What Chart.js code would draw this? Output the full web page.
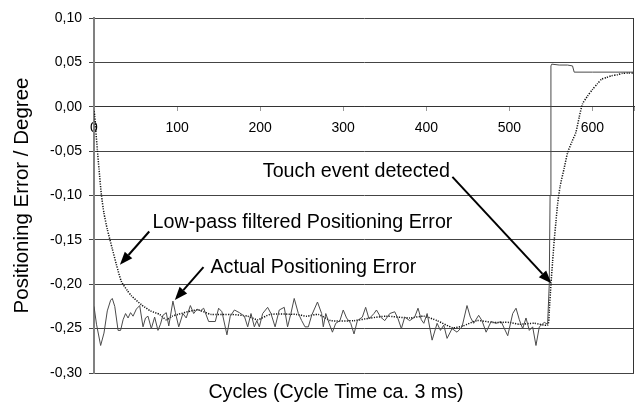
<!DOCTYPE html>
<html>
<head>
<meta charset="utf-8">
<script src="https://cdn.jsdelivr.net/npm/chart.js@4"></script>
<style>
  body { margin: 0; background: #fff; }
  canvas { display: block; }
</style>
</head>
<body>
<canvas id="chart" width="643" height="410"></canvas>
<script>
// Actual positioning error (solid line)
const actualCycles = [0, 3, 8, 12, 16, 20, 22, 25, 29, 32, 35, 38, 41, 44, 47, 51, 55, 59, 62, 65, 69, 73, 77, 80, 83, 87, 90, 95, 98, 102, 107, 111, 116, 120, 124, 128, 132, 138, 146, 150, 154, 160, 164, 169, 175, 181, 185, 189, 193, 196, 199, 203, 209, 213, 218, 223, 229, 233, 237, 241, 246, 250, 254, 258, 262, 269, 274, 276, 279, 283, 287, 291, 296, 300, 304, 309, 313, 317, 323, 327, 331, 337, 340, 345, 350, 356, 362, 366, 370, 374, 380, 386, 390, 394, 397, 401, 407, 413, 417, 421, 425, 431, 437, 443, 449, 453, 457, 463, 467, 472, 478, 484, 490, 498, 504, 508, 512, 516, 520, 524, 528, 532, 536, 542, 546, 548, 549, 550, 551, 560, 570, 576, 578, 600, 650];
const actualValues = [-0.225, -0.245, -0.269, -0.255, -0.23, -0.218, -0.216, -0.225, -0.252, -0.252, -0.24, -0.233, -0.238, -0.232, -0.236, -0.228, -0.224, -0.248, -0.238, -0.236, -0.25, -0.237, -0.252, -0.245, -0.235, -0.232, -0.247, -0.219, -0.232, -0.248, -0.233, -0.238, -0.224, -0.233, -0.228, -0.23, -0.227, -0.242, -0.242, -0.227, -0.231, -0.257, -0.236, -0.229, -0.232, -0.236, -0.248, -0.233, -0.248, -0.241, -0.248, -0.233, -0.226, -0.233, -0.248, -0.229, -0.226, -0.248, -0.233, -0.216, -0.233, -0.241, -0.248, -0.248, -0.235, -0.22, -0.233, -0.248, -0.233, -0.244, -0.254, -0.244, -0.241, -0.229, -0.238, -0.244, -0.256, -0.241, -0.237, -0.226, -0.239, -0.233, -0.229, -0.237, -0.241, -0.233, -0.231, -0.239, -0.25, -0.237, -0.241, -0.237, -0.227, -0.24, -0.244, -0.233, -0.263, -0.244, -0.252, -0.246, -0.261, -0.25, -0.254, -0.248, -0.224, -0.237, -0.244, -0.235, -0.241, -0.254, -0.242, -0.244, -0.242, -0.258, -0.233, -0.227, -0.24, -0.25, -0.238, -0.252, -0.248, -0.269, -0.248, -0.243, -0.245, -0.2, -0.1, 0.046, 0.048, 0.047, 0.047, 0.046, 0.039, 0.039, 0.039];

// Low-pass filtered positioning error (dotted line)
const filteredCycles = [0, 1, 2, 4, 6, 9, 12, 16, 22, 27, 33, 40, 45, 57, 68, 79, 87, 94, 101, 117, 126, 141, 165, 185, 197, 212, 244, 256, 270, 285, 313, 333, 352, 380, 397, 413, 432, 444, 461, 480, 500, 512, 530, 546, 548, 550, 552, 554, 556, 558, 561, 566, 570, 575, 580, 584, 588, 594, 600, 606, 611, 617, 623, 630, 636, 643, 650];
const filteredValues = [-0.005, -0.011, -0.025, -0.048, -0.07, -0.1, -0.12, -0.138, -0.16, -0.178, -0.197, -0.207, -0.213, -0.223, -0.23, -0.234, -0.24, -0.236, -0.234, -0.23, -0.229, -0.234, -0.234, -0.236, -0.24, -0.234, -0.234, -0.236, -0.234, -0.241, -0.241, -0.238, -0.236, -0.238, -0.236, -0.241, -0.249, -0.247, -0.241, -0.243, -0.243, -0.245, -0.244, -0.246, -0.23, -0.2, -0.175, -0.15, -0.13, -0.11, -0.09, -0.069, -0.052, -0.04, -0.029, -0.012, 0.003, 0.012, 0.0195, 0.026, 0.031, 0.033, 0.035, 0.036, 0.0376, 0.038, 0.038];

// Axis ranges
const xMin = 0, xMax = 650, xStep = 100;
const yMin = -0.30, yMax = 0.10, yStep = 0.05;

// Annotation texts, anchored in data units
const notes = [
  { text: "Low-pass filtered Positioning Error", x: 70.5, y: -0.131, from: [66.5, -0.1406], to: [31.2, -0.178] },
  { text: "Actual Positioning Error", x: 140.2, y: -0.1817, from: [131.8, -0.1806], to: [97.3, -0.2177] },
  { text: "Touch event detected", x: 203.2, y: -0.0735, from: [431.4, -0.079], to: [550.5, -0.199] },
];
const xTitle = "Cycles (Cycle Time ca. 3 ms)";
const yTitle = "Positioning Error / Degree";

const FONT = "'Liberation Sans', Arial, sans-serif";
Chart.defaults.font.family = FONT;
Chart.defaults.color = "#000";

function toPoints(xs, ys) {
  return xs.map((x, i) => ({ x: x, y: ys[i] }));
}

function arrow(ctx, x1, y1, x2, y2) {
  const ang = Math.atan2(y2 - y1, x2 - x1);
  const len = 13, half = 5;
  const bx = x2 - len * Math.cos(ang), by = y2 - len * Math.sin(ang);
  ctx.beginPath();
  ctx.moveTo(x1, y1);
  ctx.lineTo(bx, by);
  ctx.lineWidth = 2;
  ctx.stroke();
  ctx.beginPath();
  ctx.moveTo(x2, y2);
  ctx.lineTo(bx + half * Math.sin(ang), by - half * Math.cos(ang));
  ctx.lineTo(bx - half * Math.sin(ang), by + half * Math.cos(ang));
  ctx.closePath();
  ctx.fill();
}

const annotations = {
  id: "annotations",
  afterDraw(chart) {
    const { ctx, chartArea, scales } = chart;
    ctx.save();
    // right frame line
    ctx.strokeStyle = "#333";
    ctx.lineWidth = 1;
    ctx.beginPath();
    ctx.moveTo(chartArea.right - 0.5, chartArea.top);
    ctx.lineTo(chartArea.right - 0.5, chartArea.bottom);
    ctx.stroke();

    ctx.fillStyle = "#000";
    ctx.strokeStyle = "#000";
    ctx.font = "19.7px " + FONT;
    ctx.textBaseline = "middle";
    ctx.textAlign = "left";
    notes.forEach(n => {
      ctx.fillText(n.text, scales.x.getPixelForValue(n.x), scales.y.getPixelForValue(n.y));
      arrow(ctx,
        scales.x.getPixelForValue(n.from[0]), scales.y.getPixelForValue(n.from[1]),
        scales.x.getPixelForValue(n.to[0]), scales.y.getPixelForValue(n.to[1]));
    });

    ctx.textAlign = "center";
    ctx.fillText(xTitle, 336, 393);
    ctx.restore();
  }
};

new Chart(document.getElementById("chart").getContext("2d"), {
  type: "line",
  data: {
    datasets: [
      {
        label: "Actual Positioning Error",
        data: toPoints(actualCycles, actualValues),
        borderColor: "#4a4a4a",
        borderWidth: 1,
        pointRadius: 0,
        tension: 0,
      },
      {
        label: "Low-pass filtered Positioning Error",
        data: toPoints(filteredCycles, filteredValues),
        borderColor: "#111",
        borderWidth: 1.5,
        borderDash: [1.2, 1.3],
        pointRadius: 0,
        tension: 0.2,
      },
    ],
  },
  options: {
    responsive: false,
    animation: false,
    layout: { padding: { top: 18, right: 2, bottom: 37, left: 0 } },
    plugins: {
      legend: { display: false },
      tooltip: { enabled: false },
    },
    scales: {
      x: {
        type: "linear",
        position: { y: 0 },
        min: xMin,
        max: xMax,
        grid: { drawOnChartArea: false, drawTicks: true, tickLength: 4, color: "#999" },
        border: { color: "#333", width: 1 },
        ticks: {
          stepSize: xStep,
          padding: 9,
          font: { size: 14 },
          color: "#000",
          callback: v => (v <= 600 ? v : ""),
        },
      },
      y: {
        min: yMin,
        max: yMax,
        grid: { color: "#444", lineWidth: 1, tickLength: 5 },
        border: { color: "#808080", width: 2 },
        ticks: {
          stepSize: yStep,
          padding: 7,
          font: { size: 14 },
          color: "#000",
          callback: v => (Math.abs(v) < 1e-9 ? 0 : v).toFixed(2).replace(".", ","),
        },
        title: {
          display: true,
          text: yTitle,
          font: { size: 20.5 },
          color: "#000",
          padding: { top: 10, bottom: 0 },
        },
        afterFit: scale => { scale.width = 94; },
      },
    },
  },
  plugins: [annotations],
});
</script>
</body>
</html>
